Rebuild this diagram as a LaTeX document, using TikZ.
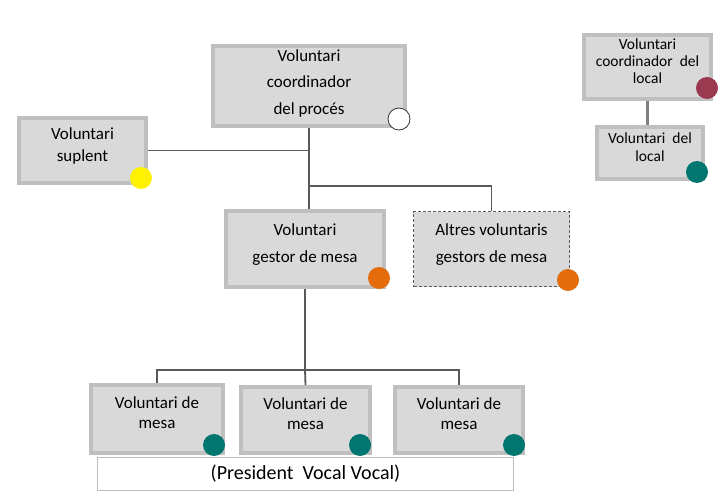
\documentclass[tikz,border=0pt]{standalone}
\usepackage{fontspec}
\setmainfont{Carlito}
\usepackage{tikz}
\usetikzlibrary{shadows}

\definecolor{boxfill}{RGB}{217,217,217}
\definecolor{boxline}{RGB}{191,191,191}
\definecolor{linkgray}{RGB}{89,89,89}
\definecolor{dotorange}{RGB}{228,108,10}
\definecolor{dotteal}{RGB}{0,118,112}
\definecolor{dotmaroon}{RGB}{155,57,80}

\tikzset{
  box/.style={rectangle, draw=boxline, line width=4pt, fill=boxfill, align=center,
    text depth=12pt, drop shadow={shadow xshift=1.5pt, shadow yshift=-1.5pt, opacity=0.3}},
  other/.style={rectangle, draw=linkgray, line width=1pt, dash pattern=on 3pt off 2pt,
    fill=boxfill, align=center, text depth=12pt},
  note/.style={rectangle, draw=boxline, line width=0.8pt, fill=white},
  link/.style={draw=linkgray, line width=1.8pt},
  dot/.style={circle, minimum size=22pt, inner sep=0pt}
}

\begin{document}
\begin{tikzpicture}[x=1pt,y=-1pt]
            \useasboundingbox (0,0) rectangle (726,500);
            % boxes
            \node at (309,86) [box, text depth=8pt, minimum width=192pt, minimum height=80pt, font=\fontsize{17}{26.5}\selectfont] (proces) {Voluntari\\coordinador\\del procés};
            \node at (82.5,150.5) [box, minimum width=127pt, minimum height=65pt, font=\fontsize{17}{22}\selectfont] (suplent) {Voluntari\\suplent};
            \node at (305,249) [box, minimum width=158pt, minimum height=76pt, font=\fontsize{17}{27}\selectfont] (gestor) {Voluntari\\gestor de mesa};
            \node at (491.5,249) [other, minimum width=156pt, minimum height=75pt, font=\fontsize{17}{27}\selectfont] (altres) {Altres voluntaris\\gestors de mesa};
            \node at (647.5,67) [box, minimum width=127pt, minimum height=58pt, font=\fontsize{15.5}{17}\selectfont] (coordlocal) {Voluntari\\coordinador~ del\\local};
            \node at (650,153) [box, minimum width=106pt, minimum height=52pt, font=\fontsize{15.5}{18}\selectfont] (local) {Voluntari~ del\\local};
            \node at (305.5,474) [note, minimum width=416pt, minimum height=33pt, font=\fontsize{20}{24}\selectfont] (roles) {(President~ Vocal Vocal)};
            \node at (157,419) [box, minimum width=132pt, minimum height=68pt, font=\fontsize{17}{20}\selectfont] (mesa1) {Voluntari de\\mesa};
            \node at (305.5,420) [box, minimum width=129pt, minimum height=66pt, font=\fontsize{17}{20}\selectfont] (mesa2) {Voluntari de\\mesa};
            \node at (459,420) [box, minimum width=128pt, minimum height=66pt, font=\fontsize{17}{20}\selectfont] (mesa3) {Voluntari de\\mesa};
            % connectors
            \coordinate (split) at (308,186);
            \coordinate (fork) at (305,370);
            \draw[link] (proces.south) -- (proces.south |- gestor.north);
            \draw[link] (suplent.east) -- (suplent.east -| proces.south);
            \draw[link] (split) -| (altres.north);
            \draw[link] (gestor.south) -- (fork);
            \draw[link] (mesa1.north) |- (fork) -| (mesa3.north);
            \draw[link] (fork) -- (mesa2.north);
            \draw[link, draw=black!50, line width=2.2pt] (coordlocal.south) -- (coordlocal.south |- local.north);
            % dots
            \node at (399,119) [dot, draw=black!80, line width=0.8pt, fill=white] (d1) {};
            \node at (141,178) [dot, fill=yellow] (d2) {};
            \node at (379,278) [dot, fill=dotorange] (d3) {};
            \node at (568,280) [dot, fill=dotorange] (d4) {};
            \node at (707,88) [dot, fill=dotmaroon] (d5) {};
            \node at (697,172) [dot, fill=dotteal] (d6) {};
            \node at (214,445) [dot, fill=dotteal] (d7) {};
            \node at (360,445) [dot, fill=dotteal] (d8) {};
            \node at (514,445) [dot, fill=dotteal] (d9) {};
        \end{tikzpicture}
\end{document}
